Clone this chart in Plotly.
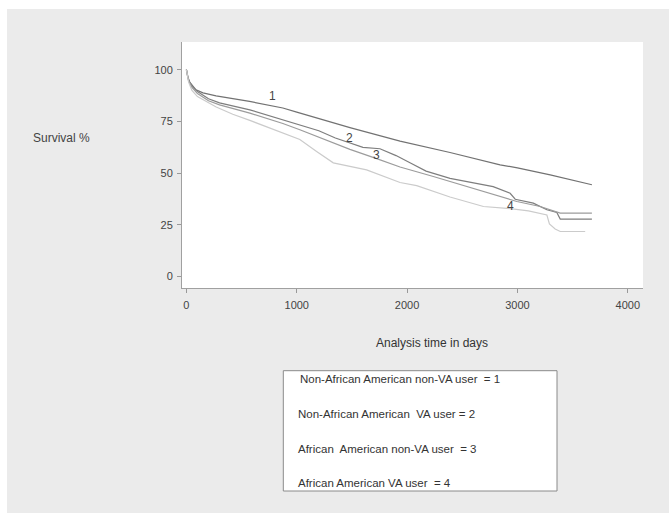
import plotly.graph_objects as go

# ---- data ----
t1 = [0, 10, 30, 60, 87, 150, 269, 572, 874, 1000, 1482, 1936, 2389, 2843, 3000, 3297, 3675]
s1 = [100, 97, 94, 91.8, 90.3, 88.8, 87.4, 84.7, 81.5, 79.5, 72, 65.5, 60, 54, 52.6, 49.2, 44.4]

t2 = [0, 20, 50, 100, 200, 300, 575, 874, 1028, 1200, 1350, 1482, 1600, 1754, 1900, 2026, 2172,
      2389, 2541, 2661, 2780, 2934, 2980, 3144, 3267, 3357, 3388, 3675]
s2 = [100, 95, 92, 89.5, 86, 84, 80.6, 75.8, 73.5, 70.5, 67, 64.5, 62.5, 61.8, 58.5, 55, 51,
      47.5, 46, 44.8, 43.5, 40.3, 37.4, 35.5, 32.3, 31, 27.8, 27.8]

t3 = [0, 20, 50, 100, 200, 300, 575, 874, 1028, 1200, 1482, 1724, 1936, 2238, 2541, 2843, 2995,
      3206, 3388, 3675]
s3 = [100, 94.5, 91.5, 88.5, 85, 83, 79, 74, 71, 67.5, 61.5, 57, 53, 48.4, 43.5, 38.7, 36.3,
      33.9, 30.7, 30.7]

t4 = [0, 20, 50, 100, 270, 420, 575, 800, 1028, 1180, 1331, 1633, 1936, 2087, 2389, 2692, 2904,
      3100, 3267, 3290, 3342, 3388, 3614]
s4 = [100, 94, 90, 87, 82, 78.5, 75.5, 71, 66.3, 60.5, 55, 51.6, 45.5, 44, 38.5, 33.9, 33,
      31.8, 29.8, 25.5, 23, 21.8, 21.8]

curve_labels = ["1", "2", "3", "4"]
label_t = [783, 1482, 1724, 2934]
label_s = [87.1, 67, 58.9, 33.9]

x_ticks = [0, 1000, 2000, 3000, 4000]
y_ticks = [0, 25, 50, 75, 100]

legend_lines = [
    "Non-African American non-VA user  = 1",
    "Non-African American  VA user = 2",
    "African  American non-VA user  = 3",
    "African American VA user  = 4",
]

colors = ["#727272", "#7e7e7e", "#9c9c9c", "#cbcbcb"]

fig = go.Figure()
for t, s, c in zip([t1, t2, t3, t4], [s1, s2, s3, s4], colors):
    fig.add_trace(go.Scatter(x=t, y=s, mode="lines", line=dict(color=c, width=1.2),
                             showlegend=False, hoverinfo="skip"))

# plot geometry in pixels
L, R, T, B = 182, 643, 42, 288


def px(x):
    return (x - L) / (R - L)


def py(y):
    return (B - y) / (B - T)


FONT = "Arial, Liberation Sans, sans-serif"

ann = []
for lab, x, y in zip(curve_labels, label_t, label_s):
    ann.append(dict(x=x, y=y, xref="x", yref="y", text=lab, showarrow=False,
                    xanchor="center", yanchor="middle",
                    font=dict(family=FONT, size=12, color="#444")))

ann.append(dict(x=px(61), y=py(137.5), xref="paper", yref="paper", text="Survival %",
                showarrow=False, xanchor="center", yanchor="middle",
                font=dict(family=FONT, size=12, color="#444")))
ann.append(dict(x=px(431.7), y=py(343.3), xref="paper", yref="paper", text="Analysis time in days",
                showarrow=False, xanchor="center", yanchor="middle",
                font=dict(family=FONT, size=12, color="#333")))

for i, (txt, yy) in enumerate(zip(legend_lines, [379, 413.5, 449, 482.5])):
    ann.append(dict(x=px(297.5 if i == 0 else 295.5), y=py(yy), xref="paper", yref="paper",
                    text=txt, showarrow=False, xanchor="left", yanchor="middle",
                    font=dict(family=FONT, size=11.5, color="#333")))

shapes = [
    # white scan margins (top and left)
    dict(type="rect", xref="paper", yref="paper", x0=px(0), x1=px(669), y0=py(0), y1=py(9),
         fillcolor="white", line=dict(width=0), layer="above"),
    dict(type="rect", xref="paper", yref="paper", x0=px(0), x1=px(7), y0=py(0), y1=py(513),
         fillcolor="white", line=dict(width=0), layer="above"),
    # legend box
    dict(type="rect", xref="paper", yref="paper", x0=px(283.3), x1=px(557), y0=py(370.7),
         y1=py(491), fillcolor="white", line=dict(color="#8a8a8a", width=1), layer="above"),
]

axis_font = dict(family=FONT, size=11, color="#444")

fig.update_layout(
    width=669, height=513,
    margin=dict(l=L, r=669 - R, t=T, b=513 - B, pad=0),
    paper_bgcolor="#ebebeb",
    plot_bgcolor="white",
    annotations=ann,
    shapes=shapes,
    xaxis=dict(range=[-40, 4138], tickvals=x_ticks, ticks="outside", ticklen=4,
               tickcolor="#999", showline=True, linecolor="#a0a0a0", linewidth=1,
               showgrid=False, zeroline=False, tickfont=axis_font, ticklabelstandoff=3),
    yaxis=dict(range=[-5.5, 113.4], tickvals=y_ticks, ticks="outside", ticklen=4,
               tickcolor="#999", showline=True, linecolor="#a0a0a0", linewidth=1,
               showgrid=False, zeroline=False, tickfont=axis_font, ticklabelstandoff=2),
)

fig.write_html(
    "out.html",
    config={"displayModeBar": False, "staticPlot": True},
    post_script="document.body.style.margin='0';document.body.style.overflow='hidden';",
)
